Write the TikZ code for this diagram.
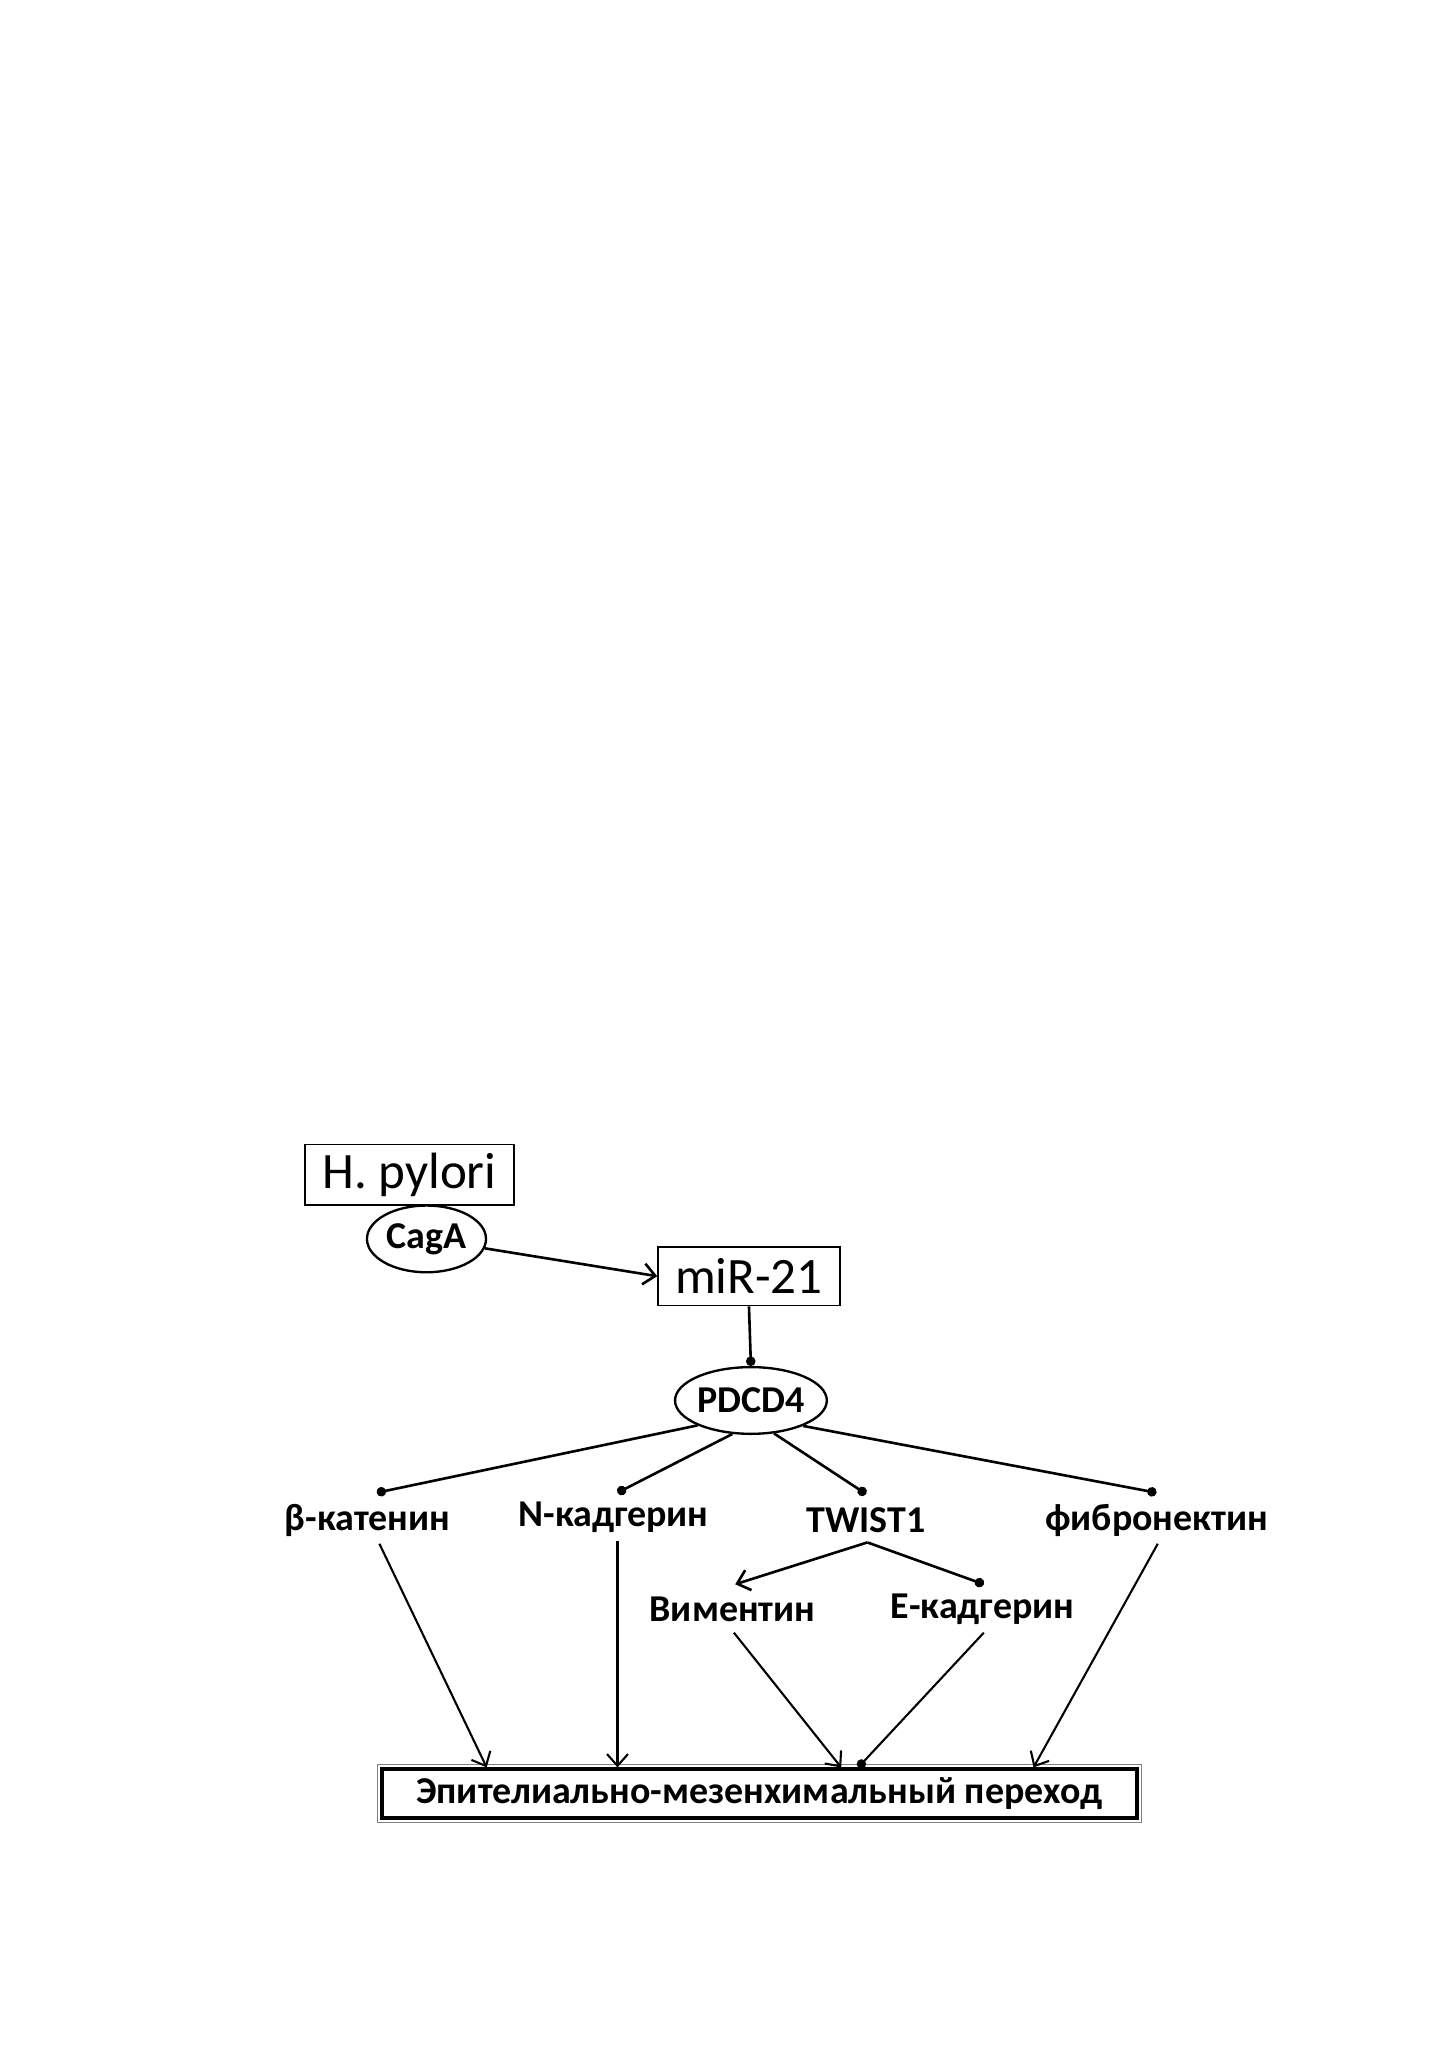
\documentclass[tikz,border=0pt]{standalone}
\usepackage{fontspec}
\setmainfont{Carlito}
\usetikzlibrary{arrows.meta,shapes.geometric}
\begin{document}
\begin{tikzpicture}[x=0.5pt,y=-0.5pt,
  boxnode/.style={draw, line width=0.6pt, inner sep=0pt, font=\fontsize{19.5}{22}\selectfont},
  ovalnode/.style={ellipse, draw, line width=0.9pt, inner sep=0pt, font=\bfseries\fontsize{14.5}{17}\selectfont},
  lbl/.style={inner sep=0pt, font=\bfseries\fontsize{14.5}{17}\selectfont},
  upline/.style={line width=1pt},
  lowline/.style={line width=0.8pt},
  inh/.style={-{Circle[length=3.6pt]}},
  act/.style={-{Straight Barb[length=4.5pt,width=8pt]}}]
\useasboundingbox[fill=white] (0,0) rectangle (1108,1567);

\node[boxnode, minimum width=80pt, minimum height=23pt] (hp) at (313,898) {H. pylori};
\node[ovalnode, minimum width=45.5pt, minimum height=25.5pt] (cag) at (326,947) {CagA};
\node[boxnode, minimum width=69.5pt, minimum height=22.5pt] (mir) at (572.5,975.5) {miR-21};
\node[ovalnode, minimum width=56pt, minimum height=25.5pt] (pd) at (574,1070.5) {PDCD4};

\node[lbl] (bc) at (281,1162) {β-катенин};
\node[lbl] (nc) at (469,1160) {N-кадгерин};
\node[lbl] (tw) at (662,1162) {TWIST1};
\node[lbl] (fn) at (884,1162) {фибронектин};
\node[lbl] (vm) at (560,1230) {Виментин};
\node[lbl] (ec) at (751,1230) {Е-кадгерин};
\node[lbl, draw, line width=1.4pt, minimum width=289pt, minimum height=19pt] (emt) at (580.5,1371) {Эпителиально-мезенхимальный переход};
\draw[line width=0.45pt, gray] ([xshift=-0.8pt,yshift=0.8pt]emt.north west) rectangle ([xshift=0.8pt,yshift=-0.8pt]emt.south east);
\draw[line width=0.4pt] ([xshift=1.5pt,yshift=-1.5pt]emt.north west) rectangle ([xshift=-1.5pt,yshift=1.5pt]emt.south east);

\coordinate (bcd) at (288,1141);
\coordinate (ncd) at (472,1141);
\coordinate (twd) at (662,1142);
\coordinate (fnd) at (884,1141);
\coordinate (fork) at (663,1179);
\coordinate (vmt) at (562,1211);
\coordinate (ecd) at (752,1211);
\coordinate (bcs) at (290,1180);
\coordinate (bce) at (372,1351);
\coordinate (ncs) at (472,1178);
\coordinate (nce) at (472,1351);
\coordinate (vms) at (561,1248);
\coordinate (vme) at (643,1351);
\coordinate (ecs) at (752,1248);
\coordinate (ece) at (656,1351);
\coordinate (fns) at (885,1180);
\coordinate (fne) at (790,1351);

\draw[upline, act] (cag) -- (mir.west);
\draw[upline, inh] (mir.south) -- (pd.north);
\draw[upline, inh] (pd.205.7) -- (bcd);
\draw[upline, inh] (pd.241.8) -- (ncd);
\draw[upline, inh] (pd.305.8) -- (twd);
\draw[upline, inh] (pd.334.9) -- (fnd);
\draw[upline, act] (fork) -- (vmt);
\draw[upline, inh] (fork) -- (ecd);
\draw[lowline, act] (bcs) -- (bce);
\draw[lowline, act] (ncs) -- (nce);
\draw[lowline, act] (vms) -- (vme);
\draw[lowline, inh] (ecs) -- (ece);
\draw[lowline, act] (fns) -- (fne);
\end{tikzpicture}
\end{document}
